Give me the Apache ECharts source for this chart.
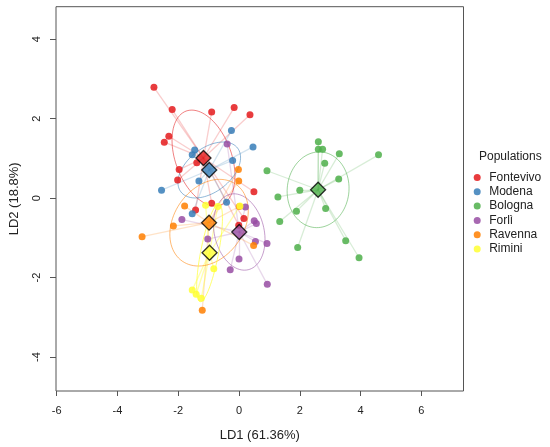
<!DOCTYPE html>
<html>
<head>
<meta charset="utf-8">
<script src="https://cdn.jsdelivr.net/npm/echarts@6/dist/echarts.min.js"></script>
<style>
  html, body { margin: 0; padding: 0; background: #fff; }
  #chart { width: 550px; height: 447px; }
</style>
</head>
<body>
<div id="chart"></div>
<script>
// LD1 / LD2 scores per population
const fontevivo = [[-2.80, 2.79], [-2.20, 2.23], [-0.90, 2.17], [-0.16, 2.28], [0.36, 2.10],
  [-2.31, 1.56], [-2.46, 1.41], [-1.97, 0.72], [-2.02, 0.46], [-1.39, 0.89],
  [0.49, 0.16], [-0.90, -0.13], [-1.43, -0.30], [0.16, -0.51], [-0.01, -0.68]];
const modena = [[-0.25, 1.70], [0.46, 1.29], [-1.46, 1.21], [-1.54, 1.09], [-0.21, 0.95],
  [-1.32, 0.43], [-2.55, 0.20], [-0.41, -0.10], [-1.54, -0.39]];
const bologna = [[2.61, 1.42], [2.61, 1.23], [2.75, 1.23], [3.30, 1.12], [4.59, 1.09],
  [2.82, 0.88], [0.92, 0.69], [3.28, 0.48], [2.00, 0.20], [1.28, 0.03],
  [1.89, -0.33], [2.85, -0.26], [1.34, -0.59], [1.93, -1.24], [3.51, -1.07], [3.95, -1.50]];
const forli = [[-0.39, 1.36], [0.21, -0.22], [-1.88, -0.54], [0.50, -0.57], [0.57, -0.64],
  [-1.03, -1.03], [0.54, -1.09], [0.92, -1.14], [0.00, -1.53], [-0.29, -1.80], [0.93, -2.17]];
const ravenna = [[-0.02, 0.72], [-0.01, 0.43], [0.01, -0.21], [-1.79, -0.20], [-2.16, -0.70],
  [-3.19, -0.97], [0.48, -1.19], [-1.21, -2.82]];
const rimini = [[-1.10, -0.18], [-0.70, -0.21], [0.03, -0.20], [-0.83, -1.78],
  [-1.54, -2.31], [-1.41, -2.42], [-1.24, -2.52]];

const groupNames = ["Fontevivo", "Modena", "Bologna", "Forlì", "Ravenna", "Rimini"];
const groupData = [fontevivo, modena, bologna, forli, ravenna, rimini];
const groupColors = ["#E41A1C", "#377EB8", "#4DAF4A", "#984EA3", "#FF7F00", "#FFFF33"];

// ellipse conjugate semi-axes (LD1, LD2 units)
const ellipseU = [[0.574, -1.181], [0.932, 0.552], [0.125, 0.950], [0.294, -0.950], [0.884, 0.967], [-0.311, -1.231]];
const ellipseV = [[-0.862, -0.246], [0.440, -0.437], [1.011, -0.078], [0.796, 0.144], [0.940, -0.505], [0.289, -0.043]];

const xTicks = [-6, -4, -2, 0, 2, 4, 6];
const yTicks = [-4, -2, 0, 2, 4];

function mean(pts, i) {
  let s = 0;
  pts.forEach(p => { s += p[i]; });
  return s / pts.length;
}

const centroids = groupData.map(pts => [mean(pts, 0), mean(pts, 1)]);

const series = [];

// spider lines
groupData.forEach((pts, g) => {
  series.push({
    type: "lines",
    coordinateSystem: "cartesian2d",
    silent: true,
    z: 1,
    lineStyle: { color: groupColors[g], width: 1.3, opacity: g === 5 ? 0.4 : 0.22 },
    data: pts.map(p => ({ coords: [p, centroids[g]] }))
  });
});

// ellipses
groupData.forEach((pts, g) => {
  series.push({
    type: "custom",
    silent: true,
    z: 2,
    data: [[centroids[g][0], centroids[g][1], ellipseU[g][0], ellipseU[g][1], ellipseV[g][0], ellipseV[g][1]]],
    encode: { x: 0, y: 1 },
    renderItem: function (params, api) {
      const cx = api.value(0), cy = api.value(1);
      const ux = api.value(2), uy = api.value(3), vx = api.value(4), vy = api.value(5);
      const points = [];
      for (let k = 0; k <= 90; k++) {
        const t = k / 90 * 2 * Math.PI;
        points.push(api.coord([cx + ux * Math.cos(t) + vx * Math.sin(t),
                               cy + uy * Math.cos(t) + vy * Math.sin(t)]));
      }
      return {
        type: "polyline",
        shape: { points: points },
        style: { stroke: groupColors[g], fill: null, lineWidth: 1, opacity: g === 5 ? 0.7 : 0.55 }
      };
    }
  });
});

// points
groupData.forEach((pts, g) => {
  series.push({
    name: groupNames[g],
    type: "scatter",
    z: 3,
    symbol: "circle",
    symbolSize: 7,
    itemStyle: { color: groupColors[g], opacity: 0.85 },
    data: pts
  });
});

// group centroids
groupData.forEach((pts, g) => {
  series.push({
    name: groupNames[g] + " centroid",
    type: "scatter",
    z: 4,
    symbol: "diamond",
    symbolSize: 15,
    itemStyle: { color: groupColors[g], borderColor: "#000", borderWidth: 1.3 },
    data: [centroids[g]]
  });
});

const chart = echarts.init(document.getElementById("chart"), null, { renderer: "canvas" });
chart.setOption({
  animation: false,
  backgroundColor: "#fff",
  textStyle: { fontFamily: "Liberation Sans, Arial, sans-serif" },
  title: {
    text: "Populations",
    left: 479,
    top: 151,
    padding: 0,
    textStyle: { fontSize: 12, fontWeight: "normal", color: "#222", fontFamily: "Liberation Sans, Arial, sans-serif" }
  },
  legend: {
    data: groupNames,
    orient: "vertical",
    left: 473.7,
    top: 170.5,
    padding: 0,
    itemWidth: 14,
    itemHeight: 7,
    itemGap: 0.3,
    icon: "circle",
    textStyle: { fontSize: 12, color: "#222", lineHeight: 14, padding: [0, 0, 0, 0] }
  },
  grid: {
    left: 54,
    right: 86.5,
    top: 6.7,
    bottom: 55.3,
    show: true,
    borderColor: "#555",
    borderWidth: 1,
    backgroundColor: "transparent"
  },
  xAxis: {
    type: "value",
    position: "bottom",
    min: -6.023,
    max: 7.387,
    name: "LD1 (61.36%)",
    nameLocation: "middle",
    nameGap: 38,
    nameTextStyle: { fontSize: 13, color: "#222" },
    axisLine: { show: false, onZero: false },
    splitLine: { show: false },
    axisTick: { show: true, length: 5, lineStyle: { color: "#555" }, customValues: xTicks },
    axisLabel: { fontSize: 11, color: "#222", margin: 14, customValues: xTicks }
  },
  yAxis: {
    type: "value",
    position: "left",
    min: -4.854,
    max: 4.819,
    name: "LD2 (18.8%)",
    nameLocation: "middle",
    nameGap: 35,
    nameRotate: 90,
    nameTextStyle: { fontSize: 13, color: "#222" },
    axisLine: { show: false, onZero: false },
    splitLine: { show: false },
    axisTick: { show: true, length: 6, lineStyle: { color: "#555" }, customValues: yTicks },
    axisLabel: { fontSize: 11, color: "#222", margin: 14, rotate: 90, customValues: yTicks }
  },
  series: series
});
</script>
</body>
</html>
